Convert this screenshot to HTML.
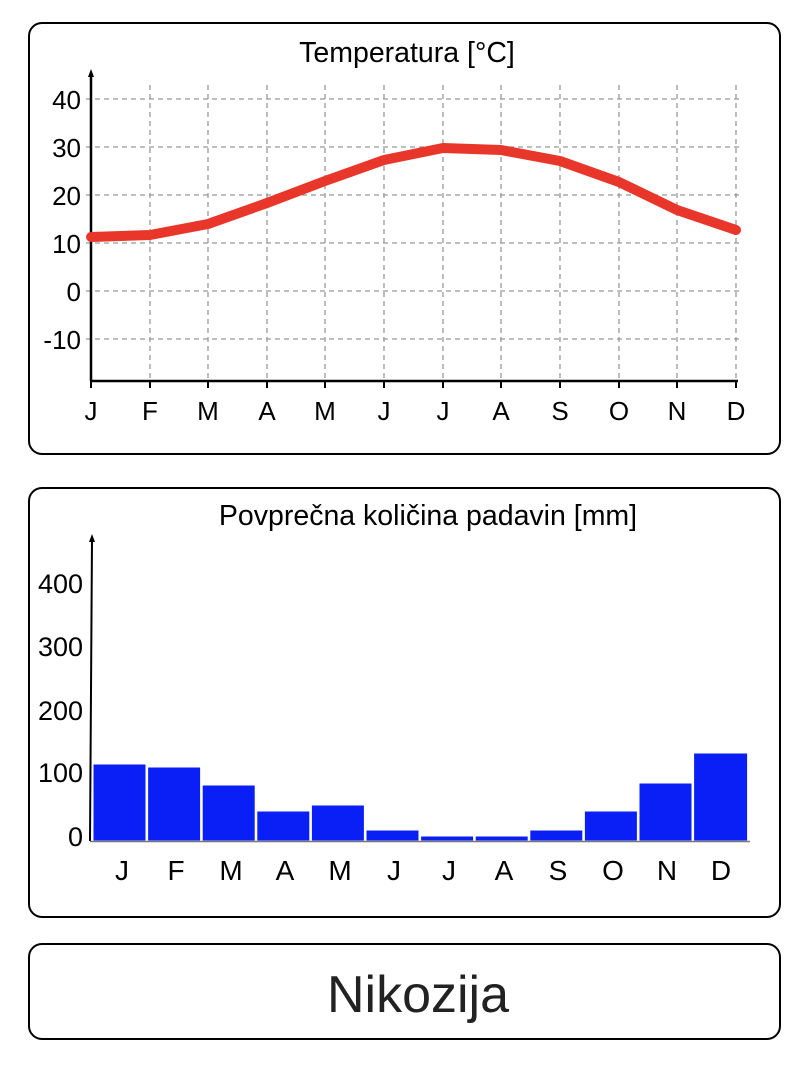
<!DOCTYPE html>
<html><head><meta charset="utf-8"><style>
body{margin:0;background:#fff;}
svg{display:block;font-family:"Liberation Sans",sans-serif;}
</style></head><body>
<svg width="804" height="1074" viewBox="0 0 804 1074">
<rect x="29" y="23" width="751" height="431" rx="13" fill="#fff" stroke="#000" stroke-width="2"/>
<rect x="29" y="488" width="751" height="429" rx="13" fill="#fff" stroke="#000" stroke-width="2"/>
<rect x="29" y="944" width="751" height="95" rx="13" fill="#fff" stroke="#000" stroke-width="2"/>
<text x="407" y="62" font-size="28.5" text-anchor="middle">Temperatura [°C]</text>
<g stroke="#999" stroke-width="1.3" stroke-dasharray="5,4">
<line x1="86" y1="99" x2="740" y2="99"/><line x1="86" y1="147" x2="740" y2="147"/>
<line x1="86" y1="195" x2="740" y2="195"/><line x1="86" y1="243" x2="740" y2="243"/>
<line x1="86" y1="291" x2="740" y2="291"/><line x1="86" y1="339" x2="740" y2="339"/>
<line x1="150" y1="85" x2="150" y2="380"/><line x1="208" y1="85" x2="208" y2="380"/>
<line x1="267" y1="85" x2="267" y2="380"/><line x1="325" y1="85" x2="325" y2="380"/>
<line x1="384" y1="85" x2="384" y2="380"/><line x1="443" y1="85" x2="443" y2="380"/>
<line x1="501" y1="85" x2="501" y2="380"/><line x1="560" y1="85" x2="560" y2="380"/>
<line x1="619" y1="85" x2="619" y2="380"/><line x1="677" y1="85" x2="677" y2="380"/>
<line x1="736" y1="85" x2="736" y2="380"/>
</g>
<line x1="91" y1="74" x2="91" y2="381" stroke="#000" stroke-width="2.5"/>
<polygon points="91,69 88,77 94,77" fill="#000"/>
<line x1="90" y1="381" x2="738" y2="381" stroke="#000" stroke-width="2.5"/>
<g stroke="#000" stroke-width="2">
<line x1="91" y1="381" x2="91" y2="388"/><line x1="150" y1="381" x2="150" y2="388"/><line x1="208" y1="381" x2="208" y2="388"/><line x1="267" y1="381" x2="267" y2="388"/><line x1="325" y1="381" x2="325" y2="388"/><line x1="384" y1="381" x2="384" y2="388"/><line x1="443" y1="381" x2="443" y2="388"/><line x1="501" y1="381" x2="501" y2="388"/><line x1="560" y1="381" x2="560" y2="388"/><line x1="619" y1="381" x2="619" y2="388"/><line x1="677" y1="381" x2="677" y2="388"/><line x1="736" y1="381" x2="736" y2="388"/>
</g>
<g font-size="26" text-anchor="end">
<text x="81" y="109">40</text><text x="81" y="157">30</text><text x="81" y="205">20</text><text x="81" y="253">10</text><text x="81" y="301">0</text><text x="81" y="349">-10</text>
</g>
<g font-size="26" text-anchor="middle">
<text x="91" y="420">J</text><text x="150" y="420">F</text><text x="208" y="420">M</text><text x="267" y="420">A</text><text x="325" y="420">M</text><text x="384" y="420">J</text><text x="443" y="420">J</text><text x="501" y="420">A</text><text x="560" y="420">S</text><text x="619" y="420">O</text><text x="677" y="420">N</text><text x="736" y="420">D</text>
</g>
<polyline points="91,237 150,235 208,224 267,203 325,181 384,160 443,148 501,150 560,161 619,182 677,210 736,230" fill="none" stroke="#e8372a" stroke-width="10" stroke-linecap="round" stroke-linejoin="round"/>

<text x="428" y="525" font-size="28.5" text-anchor="middle">Povprečna količina padavin [mm]</text>
<line x1="90" y1="841" x2="92" y2="540" stroke="#000" stroke-width="2"/>
<polygon points="92,534 89,542 95,542" fill="#000"/>
<g font-size="27" text-anchor="end">
<text x="83" y="593">400</text><text x="83" y="656">300</text><text x="83" y="720">200</text><text x="83" y="782">100</text><text x="83" y="846">0</text>
</g>
<g fill="#0a1ff5" stroke="#fff" stroke-width="1">
<rect x="93" y="764" width="53" height="77"/><rect x="147.6" y="767" width="53" height="74"/><rect x="202.2" y="785" width="53" height="56"/><rect x="256.8" y="811" width="53" height="30"/><rect x="311.4" y="805" width="53" height="36"/><rect x="366" y="830" width="53" height="11"/><rect x="420.6" y="836" width="53" height="5"/><rect x="475.2" y="836" width="53" height="5"/><rect x="529.8" y="830" width="53" height="11"/><rect x="584.4" y="811" width="53" height="30"/><rect x="639" y="783" width="53" height="58"/><rect x="693.6" y="753" width="54" height="88"/>
</g>
<line x1="90" y1="841.5" x2="750" y2="841.5" stroke="#777" stroke-width="1.5"/>
<g font-size="28" text-anchor="middle">
<text x="122" y="880">J</text><text x="176" y="880">F</text><text x="231" y="880">M</text><text x="285" y="880">A</text><text x="340" y="880">M</text><text x="394" y="880">J</text><text x="449" y="880">J</text><text x="504" y="880">A</text><text x="558" y="880">S</text><text x="613" y="880">O</text><text x="667" y="880">N</text><text x="721" y="880">D</text>
</g>
<text x="418" y="1012" font-size="52" text-anchor="middle" fill="#222">Nikozija</text>
</svg>
</body></html>
